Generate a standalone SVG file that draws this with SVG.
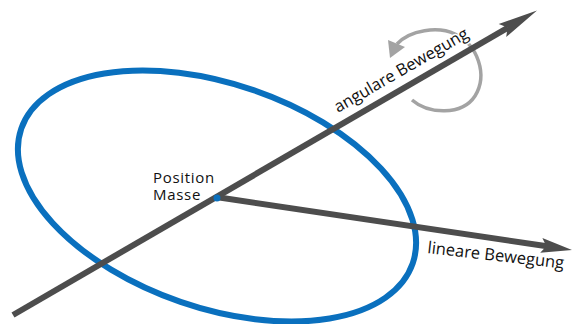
<svg xmlns="http://www.w3.org/2000/svg" width="573" height="324" viewBox="0 0 573 324">
  <style>
    .orbit { fill: none; stroke: #0a70be; stroke-width: 6; }
    .axis { stroke: #4d4d4d; stroke-width: 6; stroke-linecap: butt; fill: none; }
    .head { fill: #4d4d4d; }
    .spin { fill: none; stroke: #a3a3a3; stroke-width: 3.5; stroke-linecap: butt; }
    .label { font-family: "Open Sans", "Noto Sans", sans-serif; font-size: 16.5px; fill: #111; }
    .small { font-size: 15px; letter-spacing: 0.7px; }
    .halo { stroke: #fff; stroke-width: 3; paint-order: stroke; stroke-linejoin: round; }
  </style>
  <rect width="573" height="324" fill="#fff"/>

  <g id="orbit">
    <ellipse class="orbit" cx="217" cy="196" rx="207" ry="112" transform="rotate(19 217 196)"/>
  </g>

  <g id="rotation">
    <path class="spin" d="M412,100 C428,114 462,116 475,96 C488,75 478,45 455,34 C438,26 410,30 397,44"/>
    <polygon fill="#a3a3a3" points="388,40 405,47 390,58"/>
  </g>

  <g id="connectors">
    <line class="axis" x1="13" y1="315" x2="508" y2="27.6"/>
    <polygon class="head" points="537,10.5 506.2,37.1 507.6,27.6 498.7,24.1"/>
    <line class="axis" x1="216" y1="197" x2="547" y2="246.3"/>
    <polygon class="head" points="572,250 540.2,252.8 546.3,246.2 542.4,238"/>
  </g>

  <g id="mass">
    <circle cx="217" cy="198" r="3.5" fill="#0a70be"/>
    <text class="label small" x="153" y="183">Position</text>
    <text class="label small" x="153" y="200">Masse</text>
  </g>

  <g id="angular-label">
    <text class="label halo" transform="translate(338 113) rotate(-30)">angulare Bewegung</text>
  </g>

  <g id="linear-label">
    <text class="label" transform="translate(427 253) rotate(6.5)">lineare Bewegung</text>
  </g>
</svg>
